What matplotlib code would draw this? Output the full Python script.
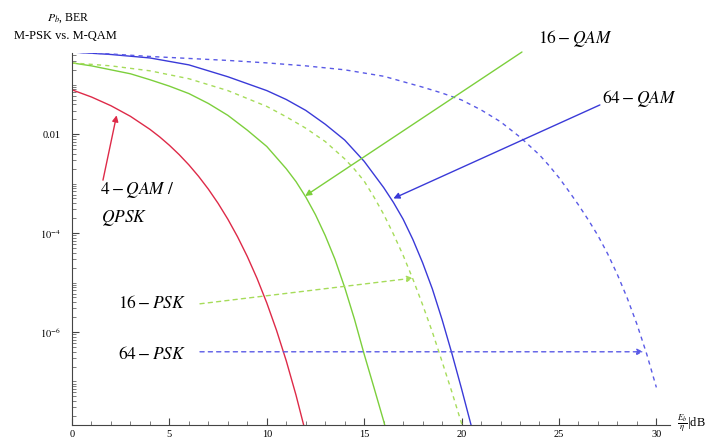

import numpy as np
import matplotlib
matplotlib.use("Agg")
import matplotlib.pyplot as plt
from matplotlib.ticker import FixedLocator, MultipleLocator, NullFormatter

plt.rcParams['font.family'] = ['Liberation Serif', 'DejaVu Serif']
plt.rcParams['mathtext.fontset'] = 'stix'

# Eb/N0 in dB and BER for every curve
qpsk_db = [0, 1, 2, 3, 4, 4.5, 5, 5.5, 6, 6.5, 7, 7.5, 8, 8.5, 9, 9.5, 10,
           10.5, 11, 11.5, 12]
qpsk_ber = [7.86e-2, 5.63e-2, 3.75e-2, 2.29e-2, 1.25e-2, 8.8e-3, 5.95e-3,
            3.86e-3, 2.39e-3, 1.40e-3, 7.73e-4, 3.99e-4, 1.91e-4, 8.4e-5,
            3.36e-5, 1.21e-5, 3.87e-6, 1.08e-6, 2.61e-7, 5.3e-8, 9.0e-9]

qam16_db = [0, 1, 2, 3, 4, 5, 6, 7, 8, 9, 10, 11, 11.5, 12, 12.5, 13, 13.5,
            14, 14.5, 15, 15.5, 16, 16.2]
qam16_log = [-0.56, -0.62, -0.70, -0.78, -0.90, -1.03, -1.18, -1.38, -1.62,
             -1.92, -2.25, -2.70, -2.96, -3.27, -3.63, -4.05, -4.53, -5.10,
             -5.74, -6.45, -7.12, -7.80, -8.1]

psk16_db = [0, 2, 4, 6, 8, 10, 11, 12, 13, 14, 14.5, 15, 15.5, 16, 16.5, 17,
            17.5, 18, 18.5, 19, 19.5, 20, 20.2]
psk16_log = [-0.56, -0.62, -0.72, -0.88, -1.12, -1.44, -1.65, -1.88, -2.15,
             -2.50, -2.71, -2.95, -3.27, -3.62, -4.02, -4.45, -4.93, -5.45,
             -6.00, -6.60, -7.21, -7.85, -8.1]

qam64_db = [0, 2, 4, 6, 8, 10, 11, 12, 13, 14, 15, 16, 16.5, 17, 17.5, 18,
            18.5, 19, 19.5, 20, 20.5, 20.8]
qam64_log = [-0.34, -0.39, -0.46, -0.60, -0.84, -1.12, -1.30, -1.52, -1.80,
             -2.12, -2.55, -3.08, -3.38, -3.72, -4.13, -4.60, -5.13, -5.75,
             -6.43, -7.15, -7.90, -8.3]

psk64_db = [0, 2, 4, 6, 8, 10, 12, 14, 16, 18, 19, 20, 21, 22, 23, 24, 24.5,
            25, 25.5, 26, 26.5, 27, 27.5, 28, 28.5, 29, 29.5, 30]
psk64_log = [-0.34, -0.38, -0.43, -0.47, -0.51, -0.56, -0.62, -0.70, -0.83,
             -1.05, -1.17, -1.31, -1.51, -1.75, -2.06, -2.42, -2.64, -2.88,
             -3.15, -3.43, -3.73, -4.05, -4.42, -4.84, -5.31, -5.84, -6.44,
             -7.12]

RED = '#de2a48'
GREEN = '#7ccf3c'
GREEN_L = '#a6dc5a'
BLUE = '#3a3ad8'
BLUE_L = '#5a5ae6'

fig = plt.figure(figsize=(7.11, 4.45), dpi=100)
ax = fig.add_axes([72/711, 20/445, 598/711, 372/445])

ax.plot(qpsk_db, qpsk_ber, color=RED, lw=1.0)
ax.plot(qam16_db, 10**np.array(qam16_log), color=GREEN, lw=1.0)
ax.plot(psk16_db, 10**np.array(psk16_log), color=GREEN_L, lw=1.0,
        dashes=(3, 3))
ax.plot(qam64_db, 10**np.array(qam64_log), color=BLUE, lw=1.0)
ax.plot(psk64_db, 10**np.array(psk64_log), color=BLUE_L, lw=1.0,
        dashes=(3, 3))

ax.set_yscale('log')
ax.set_xlim(0, 30.7)
ax.set_ylim(10**-7.88, 10**-0.36)

for s in ['top', 'right']:
    ax.spines[s].set_visible(False)
ax.spines['left'].set_color('#444444')
ax.spines['bottom'].set_color('#444444')

ax.xaxis.set_major_locator(MultipleLocator(5))
ax.xaxis.set_minor_locator(MultipleLocator(1))
ax.yaxis.set_major_locator(FixedLocator([1e-2, 1e-4, 1e-6]))
ax.set_yticklabels(['0.01', r'$10^{-4}$', r'$10^{-6}$'])
ax.yaxis.set_minor_locator(matplotlib.ticker.LogLocator(base=10, subs='all',
                                                       numticks=30))
ax.yaxis.set_minor_formatter(NullFormatter())
ax.tick_params(which='major', direction='in', length=5, width=0.8,
               labelsize=7.5, color='#444444')
ax.tick_params(axis='y', which='major', pad=8)
ax.tick_params(which='minor', direction='in', length=3, width=0.6,
               color='#666666')

# axis titles
fig.text(47/711, 1-18/445, r'$P_b$, BER', fontsize=8.5, va='center')
fig.text(14/711, 1-36/445, 'M-PSK vs. M-QAM', fontsize=9, va='center')
fig.text(677/711, 1-423/445, r'$\frac{E_b}{\eta}$|dB', fontsize=9,
         va='center')

# labels with arrows
def lg(v):
    return 10**v

FS = 12.5

ax.annotate('', xy=(2.29, lg(-1.62)), xytext=(1.59, lg(-2.93)),
            arrowprops=dict(arrowstyle='-|>', color=RED, lw=1.0,
                            mutation_scale=9, shrinkA=0, shrinkB=0))
ax.text(1.44, lg(-3.13), r'$4-QAM\ /$', fontsize=FS, va='center')
ax.text(1.50, lg(-3.70), r'$QPSK$', fontsize=FS, va='center')

ax.annotate('', xy=(11.97, lg(-3.25)), xytext=(23.1, lg(-0.34)),
            arrowprops=dict(arrowstyle='-|>', color=GREEN, lw=1.0,
                            mutation_scale=9, shrinkA=0, shrinkB=0),
            annotation_clip=False)
ax.text(23.9, lg(-0.06), r'$16-QAM$', fontsize=FS, va='center',
        clip_on=False)

ax.annotate('', xy=(16.5, lg(-3.30)), xytext=(27.1, lg(-1.41)),
            arrowprops=dict(arrowstyle='-|>', color=BLUE, lw=1.0,
                            mutation_scale=9, shrinkA=0, shrinkB=0))
ax.text(27.2, lg(-1.27), r'$64-QAM$', fontsize=FS, va='center')

ax.annotate('', xy=(17.51, lg(-4.91)), xytext=(6.57, lg(-5.43)),
            arrowprops=dict(arrowstyle='-|>', color=GREEN_L, lw=1.0,
                            ls=(0, (3, 3)), mutation_scale=9,
                            shrinkA=0, shrinkB=0))
ax.text(2.35, lg(-5.43), r'$16-PSK$', fontsize=FS, va='center')

ax.annotate('', xy=(29.33, lg(-6.40)), xytext=(6.57, lg(-6.40)),
            arrowprops=dict(arrowstyle='-|>', color=BLUE_L, lw=1.0,
                            ls=(0, (3, 3)), mutation_scale=9,
                            shrinkA=0, shrinkB=0))
ax.text(2.35, lg(-6.46), r'$64-PSK$', fontsize=FS, va='center')

fig.savefig('out.png', dpi=100)
